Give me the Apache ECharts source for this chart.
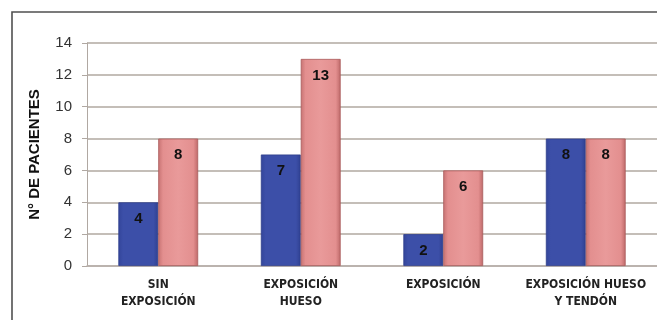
<!DOCTYPE html>
<html>
<head>
<meta charset="utf-8">
<script src="https://cdn.jsdelivr.net/npm/echarts@6/dist/echarts.min.js"></script>
<style>
  html, body { margin: 0; padding: 0; background: #ffffff; }
  #chart { width: 657px; height: 320px; }
</style>
</head>
<body>
<div id="chart"></div>
<script>
// Patient counts by wound exposure type
const categories = ['SIN\nEXPOSICIÓN', 'EXPOSICIÓN\nHUESO', 'EXPOSICIÓN', 'EXPOSICIÓN HUESO\nY TENDÓN'];
const seriesBlue = [4, 7, 2, 8];
const seriesPink = [8, 13, 6, 8];
const yTicks = { min: 0, max: 14, interval: 2 };

const chart = echarts.init(document.getElementById('chart'), null, { renderer: 'canvas' });

const labelStyle = {
  show: true,
  position: 'insideTop',
  distance: 9,
  color: '#111',
  fontFamily: 'Liberation Sans, Arial, sans-serif',
  fontWeight: 'bold',
  fontSize: 15
};

chart.setOption({
  animation: false,
  backgroundColor: '#ffffff',
  graphic: [{
    type: 'polyline',
    shape: { points: [[12, 330], [12, 12], [670, 12]] },
    style: { stroke: '#505050', lineWidth: 1.6, fill: null },
    silent: true
  }],
  grid: { left: 87, right: 0, top: 43, bottom: 54 },
  xAxis: {
    type: 'category',
    data: categories,
    axisLine: { show: true, lineStyle: { color: '#b8b0aa', width: 1.5 } },
    axisTick: { show: false },
    axisLabel: {
      interval: 0,
      margin: 10,
      color: '#222',
      fontFamily: 'Liberation Sans Narrow, DejaVu Sans Condensed, Arial Narrow, sans-serif',
      fontWeight: 'bold',
      fontSize: 12,
      lineHeight: 17
    }
  },
  yAxis: {
    type: 'value',
    min: yTicks.min,
    max: yTicks.max,
    interval: yTicks.interval,
    name: 'N° DE PACIENTES',
    nameLocation: 'middle',
    nameGap: 45,
    nameTextStyle: {
      color: '#111',
      fontFamily: 'Liberation Sans, Arial, sans-serif',
      fontWeight: 'bold',
      fontSize: 15
    },
    axisLine: { show: true, lineStyle: { color: '#b0a8a2', width: 1 } },
    axisTick: { show: true, length: 5, lineStyle: { color: '#b0a8a2' } },
    axisLabel: {
      margin: 15,
      color: '#333',
      fontFamily: 'Liberation Sans, Arial, sans-serif',
      fontSize: 15
    },
    splitLine: { show: true, lineStyle: { color: '#c4beb8', width: 2 } }
  },
  series: [
    {
      type: 'bar',
      data: seriesBlue,
      barGap: '0%',
      barCategoryGap: '44%',
      itemStyle: {
        color: new echarts.graphic.LinearGradient(0, 0, 1, 0, [
          { offset: 0, color: '#33459a' },
          { offset: 0.12, color: '#3c4fa8' },
          { offset: 0.88, color: '#3c4fa8' },
          { offset: 1, color: '#2f4090' }
        ]),
        borderColor: '#2e3f8c',
        borderWidth: 0.8
      },
      label: labelStyle
    },
    {
      type: 'bar',
      data: seriesPink,
      itemStyle: {
        color: new echarts.graphic.LinearGradient(0, 0, 1, 0, [
          { offset: 0, color: '#c77272' },
          { offset: 0.12, color: '#e38f8f' },
          { offset: 0.5, color: '#e99a9a' },
          { offset: 0.88, color: '#e38f8f' },
          { offset: 1, color: '#bd6868' }
        ]),
        borderColor: '#a85a5a',
        borderWidth: 0.8
      },
      label: labelStyle
    }
  ]
});
</script>
</body>
</html>
